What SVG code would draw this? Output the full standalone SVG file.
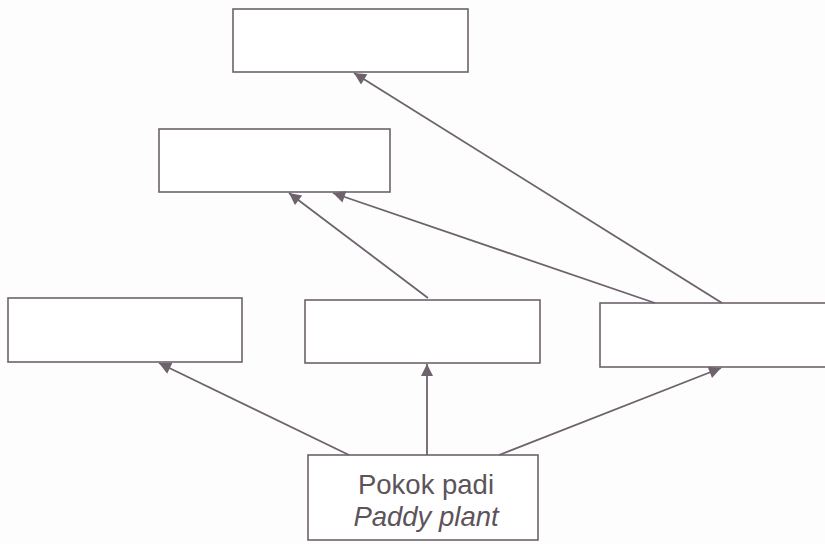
<svg xmlns="http://www.w3.org/2000/svg" width="825" height="544" viewBox="0 0 825 544">
<defs>
<style>
.box{fill:#ffffff;stroke:#6e626c;stroke-width:1.6}
.edge{stroke:#6e626c;stroke-width:1.8;fill:none;marker-end:url(#ah)}
.t{font-family:"Liberation Sans",Arial,sans-serif;font-size:27.5px;fill:#5d535b;text-anchor:middle}
</style>
<marker id="ah" viewBox="0 0 10 10" refX="10" refY="5" markerWidth="13" markerHeight="12" markerUnits="userSpaceOnUse" orient="auto">
<path d="M0,0 L10,5 L0,10 z" fill="#6e626c"/>
</marker>
</defs>
<rect width="825" height="544" fill="#fdfdfd"/>
<g id="box-top"><rect class="box" x="233" y="9" width="235" height="63"/></g>
<g id="box-mid"><rect class="box" x="159" y="129" width="231" height="63"/></g>
<g id="box-left"><rect class="box" x="8" y="298" width="234" height="64"/></g>
<g id="box-center"><rect class="box" x="305" y="300" width="235" height="63"/></g>
<g id="box-right"><rect class="box" x="600" y="303" width="240" height="64"/></g>
<g id="box-plant">
<rect class="box" x="308" y="455" width="230" height="85"/>
<text class="t" x="426" y="494">Pokok padi</text>
<text class="t" x="426" y="526" font-style="italic">Paddy plant</text>
</g>
<g id="connectors">
<line class="edge" x1="349" y1="455" x2="159" y2="363"/>
<line class="edge" x1="427" y1="455" x2="427" y2="364"/>
<line class="edge" x1="499" y1="455" x2="721" y2="368"/>
<line class="edge" x1="428" y1="298" x2="289" y2="193"/>
<line class="edge" x1="655" y1="303" x2="333" y2="193"/>
<line class="edge" x1="722" y1="303" x2="354" y2="73"/>
</g>
</svg>
